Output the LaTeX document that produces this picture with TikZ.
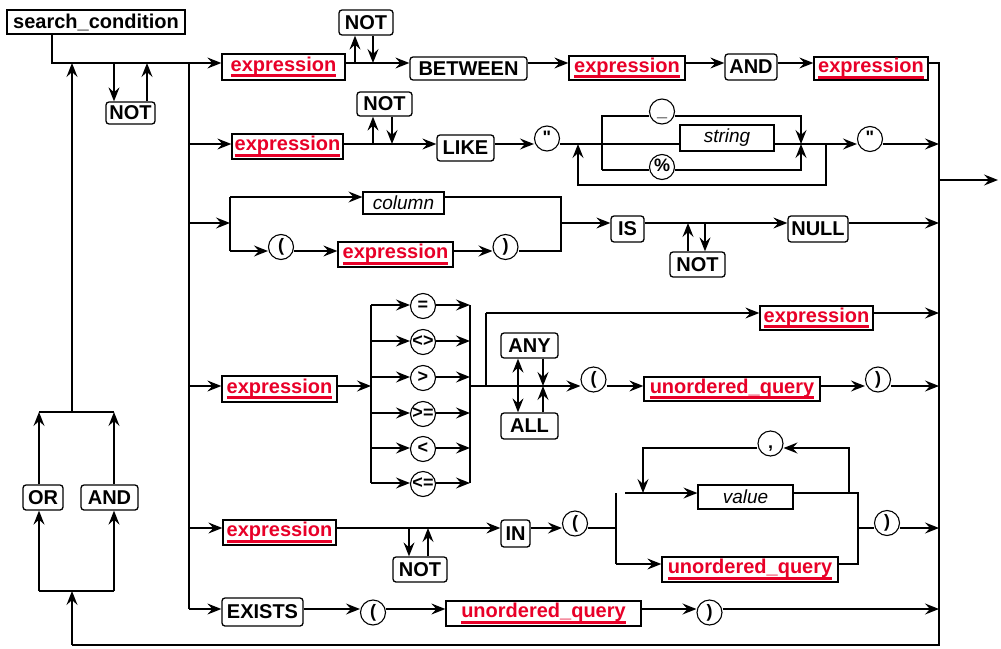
\documentclass[tikz,border=0pt]{standalone}
\usepackage{fontspec}
\setmainfont{Liberation Sans}
\newfontfamily\qfont{Liberation Sans}[Ligatures=TeXOff]
\usetikzlibrary{arrows.meta}
\definecolor{refred}{RGB}{232,0,40}
\newsavebox\rsbox
\newcommand\tm[1]{\makebox[0pt]{#1}}
\newcommand\refu[1]{\sbox\rsbox{#1}\rlap{\rule[-6pt]{\wd\rsbox}{3pt}}\usebox\rsbox}
\tikzset{
  ln/.style={line width=1.4pt, draw=black},
  arr/.style={ln, -{Stealth[length=14pt,width=11pt,inset=5pt]}},
  darr/.style={ln, {Stealth[length=14pt,width=11pt,inset=5pt]}-{Stealth[length=14pt,width=11pt,inset=5pt]}},
  sq/.style={draw, line width=1.3pt, inner sep=0pt, font=\fontsize{20}{24}\selectfont\bfseries},
  kw/.style={draw, rounded corners=3pt, line width=1.3pt, inner sep=0pt, font=\fontsize{20}{24}\selectfont\bfseries},
  rf/.style={draw, line width=1.3pt, inner sep=0pt, text=refred, font=\fontsize{20}{24}\selectfont\bfseries},
  nt/.style={draw, line width=1.2pt, inner sep=0pt, font=\fontsize{19}{23}\selectfont\itshape},
  tc/.style={draw, circle, line width=1.1pt, inner sep=0pt, minimum size=25pt, text height=12pt, text depth=3pt, font=\fontsize{18}{22}\selectfont\bfseries}
}
\begin{document}
\begin{tikzpicture}[x=1pt,y=-1pt]
\useasboundingbox (0,0) rectangle (1001,648);

% ---------- nodes ----------
\node[sq, minimum width=178pt, minimum height=24pt] (sc) at (96,22) {search\_condition};
\node[kw, minimum width=49pt, minimum height=22pt] (not0) at (130.5,113) {NOT};
% row 1
\node[rf, minimum width=123pt, minimum height=26pt] (e1) at (283.5,67) {\refu{expression}};
\node[kw, minimum width=54pt, minimum height=25pt] (not1) at (366,22.5) {NOT};
\node[kw, minimum width=117pt, minimum height=23pt] (between) at (468.5,68.5) {BETWEEN};
\node[rf, minimum width=116pt, minimum height=24pt] (e2) at (627,68) {\refu{expression}};
\node[kw, minimum width=52pt, minimum height=26pt] (and1) at (751,67) {AND};
\node[rf, minimum width=114pt, minimum height=23pt] (e3) at (871,68.5) {\refu{expression}};
% row 2
\node[rf, minimum width=111pt, minimum height=25pt] (e4) at (287.5,146.5) {\refu{expression}};
\node[kw, minimum width=55pt, minimum height=24pt] (not2) at (384.5,104) {NOT};
\node[kw, minimum width=57pt, minimum height=26pt] (like) at (465.5,148) {LIKE};
\node[tc] (q1) at (547,138.5) {\tm{\qfont\bfseries"}};
\node[tc] (us) at (662,111.5) {\tm{\_}};
\node[nt, minimum width=94pt, minimum height=26pt] (str) at (727,138) {string};
\node[tc] (pct) at (662,167) {\tm{\%}};
\node[tc] (q2) at (870,139) {\tm{\qfont\bfseries"}};
% row 3
\node[nt, minimum width=81pt, minimum height=22pt] (col) at (403.5,203) {column};
\node[tc] (lp1) at (281,247) {\tm{(}};
\node[rf, minimum width=115pt, minimum height=25pt] (e5) at (395.5,254.5) {\refu{expression}};
\node[tc] (rp1) at (505.5,247) {\tm{)}};
\node[kw, minimum width=33pt, minimum height=26pt] (is) at (627.5,229) {IS};
\node[kw, minimum width=55pt, minimum height=25pt] (not3) at (697.5,264.5) {NOT};
\node[kw, minimum width=60pt, minimum height=26pt] (null) at (818,229) {NULL};
% row 4
\node[rf, minimum width=115pt, minimum height=26pt] (e6) at (279.5,389) {\refu{expression}};
\foreach \i/\yy/\t in {1/305/=,2/341/<>,3/377/>,4/413/>=,5/448/<,6/483/<=}{
  \node[tc] (c\i) at (423,\yy+1) {\tm{\t}};
  \coordinate (cy\i) at (0,\yy);
}
\node[rf, minimum width=113pt, minimum height=24pt] (e7) at (816.5,318) {\refu{expression}};
\node[kw, minimum width=57pt, minimum height=25pt] (any) at (529.5,345.5) {ANY};
\node[kw, minimum width=57pt, minimum height=26pt] (all) at (529.5,426) {ALL};
\node[tc] (lp2) at (593.5,379.5) {\tm{(}};
\node[rf, minimum width=176pt, minimum height=24pt] (uq1) at (732,389) {\refu{unordered\_query}};
\node[tc] (rp2) at (878,379.5) {\tm{)}};
% row 5
\node[rf, minimum width=113pt, minimum height=25pt] (e8) at (279.5,532.5) {\refu{expression}};
\node[kw, minimum width=54pt, minimum height=25pt] (not4) at (420,569.5) {NOT};
\node[kw, minimum width=29pt, minimum height=27pt] (in) at (515.5,533.5) {IN};
\node[tc] (lp3) at (575,523.5) {\tm{(}};
\node[tc] (comma) at (770.5,443.5) {\tm{,}};
\node[nt, minimum width=95pt, minimum height=24pt] (val) at (745.5,497) {value};
\node[rf, minimum width=176pt, minimum height=25pt] (uq2) at (750,569.5) {\refu{unordered\_query}};
\node[tc] (rp3) at (887,523) {\tm{)}};
% row 6
\node[kw, minimum width=81pt, minimum height=28pt] (exists) at (262.5,612) {EXISTS};
\node[tc] (lp4) at (373,612.5) {\tm{(}};
\node[rf, minimum width=195pt, minimum height=25pt] (uq3) at (543.5,613.5) {\refu{unordered\_query}};
\node[tc] (rp4) at (709.5,612.5) {\tm{)}};
% left loop
\node[kw, minimum width=40pt, minimum height=25pt] (orn) at (43,497.5) {OR};
\node[kw, minimum width=57pt, minimum height=25pt] (and2) at (109.5,497.5) {AND};

% ---------- coordinates ----------
\coordinate (top) at (52,63);
\coordinate (n0a) at (114,63);
\coordinate (n0b) at (147,63);
\coordinate (b1) at (189,63);
\coordinate (b2) at (189,144);
\coordinate (b3) at (189,223);
\coordinate (b4) at (189,386);
\coordinate (b5) at (189,528);
\coordinate (b6) at (189,609);
\coordinate (R1) at (939,63);
\coordinate (R2) at (939,144);
\coordinate (R3) at (939,223);
\coordinate (R4t) at (939,313);
\coordinate (R4) at (939,386);
\coordinate (R5) at (939,528);
\coordinate (R6) at (939,609);
\coordinate (Rb) at (939,645);
\coordinate (Rx) at (939,180);
\coordinate (out) at (998,180);
\coordinate (lb) at (72,645);
\coordinate (lj) at (72,591);
\coordinate (lt) at (72,412);
\coordinate (oj) at (39,591);
\coordinate (aj) at (114,591);
\coordinate (ot) at (39,412);
\coordinate (at) at (114,412);
\coordinate (n1a) at (355,63);
\coordinate (n1b) at (373,63);
\coordinate (n2a) at (373,144);
\coordinate (n2b) at (392,144);
\coordinate (lk0) at (578,144);
\coordinate (lkL) at (602,144);
\coordinate (lkR) at (801,144);
\coordinate (lk1) at (826,144);
\coordinate (y2t) at (0,116);
\coordinate (y2b) at (0,170);
\coordinate (y2l) at (0,185);
\coordinate (j3L) at (230,223);
\coordinate (j3R) at (561,223);
\coordinate (y3t) at (0,197);
\coordinate (y3b) at (0,251);
\coordinate (n3a) at (688,223);
\coordinate (n3b) at (705,223);
\coordinate (c4L) at (371,386);
\coordinate (c4R) at (470,386);
\coordinate (j4) at (486,386);
\coordinate (y4t) at (0,313);
\coordinate (aa1) at (518,386);
\coordinate (aa2) at (543,386);
\coordinate (n4a) at (409,528);
\coordinate (n4b) at (428,528);
\coordinate (j5L) at (616,528);
\coordinate (j5R) at (858,528);
\coordinate (y5t) at (0,493);
\coordinate (y5b) at (0,564);
\coordinate (y5l) at (0,448);
\coordinate (v0) at (625,493);
\coordinate (lpx) at (643,493);
\coordinate (lpr) at (849,493);

% ---------- main entry ----------
\draw[arr] (top |- sc.south) -- (top) -- (e1.west |- top);
\draw[arr] (n0a) -- (n0a |- not0.north);
\draw[arr] (n0b |- not0.north) -- (n0b);
\draw[ln] (b1) -- (b6);

% ---------- right bus, exit and loop back ----------
\draw[ln] (e3.east |- b1) -- (R1) -- (Rb) -- (lb);
\draw[arr] (Rx) -- (out);
\draw[arr] (lb) -- (lj);
\draw[ln] (oj) -- (aj);
\draw[arr] (oj) -- (oj |- orn.south);
\draw[arr] (oj |- orn.north) -- (ot);
\draw[arr] (aj) -- (aj |- and2.south);
\draw[arr] (aj |- and2.north) -- (at);
\draw[ln] (ot) -- (at);
\draw[arr] (lt) -- (lt |- top);

% ---------- row 1 ----------
\draw[arr] (e1.east |- b1) -- (between.west |- b1);
\draw[arr] (n1a) -- (n1a |- not1.south);
\draw[arr] (n1b |- not1.south) -- (n1b);
\draw[arr] (between.east |- b1) -- (e2.west |- b1);
\draw[arr] (e2.east |- b1) -- (and1.west |- b1);
\draw[arr] (and1.east |- b1) -- (e3.west |- b1);

% ---------- row 2 ----------
\draw[arr] (b2) -- (e4.west |- b2);
\draw[arr] (e4.east |- b2) -- (like.west |- b2);
\draw[arr] (n2a) -- (n2a |- not2.south);
\draw[arr] (n2b |- not2.south) -- (n2b);
\draw[arr] (like.east |- b2) -- (q1.west |- b2);
\draw[ln] (q1.east |- b2) -- (str.west |- b2);
\draw[ln] (str.east |- b2) -- (lk1);
\draw[arr] (lk1) -- (q2.west |- b2);
\draw[arr] (q2.east |- b2) -- (R2);
\draw[ln] (lkL |- y2b) -- (lkL |- y2t) -- (us.west |- y2t);
\draw[arr] (us.east |- y2t) -- (lkR |- y2t) -- (lkR);
\draw[ln] (lkL |- y2b) -- (pct.west |- y2b);
\draw[arr] (pct.east |- y2b) -- (lkR |- y2b) -- (lkR);
\draw[arr] (lk1) -- (lk1 |- y2l) -- (lk0 |- y2l) -- (lk0);

% ---------- row 3 ----------
\draw[arr] (b3) -- (j3L);
\draw[ln] (j3L |- y3b) -- (j3L |- y3t);
\draw[arr] (j3L |- y3t) -- (col.west |- y3t);
\draw[arr] (j3L |- y3b) -- (lp1.west |- y3b);
\draw[arr] (lp1.east |- y3b) -- (e5.west |- y3b);
\draw[arr] (e5.east |- y3b) -- (rp1.west |- y3b);
\draw[ln] (rp1.east |- y3b) -- (j3R |- y3b) -- (j3R |- y3t) -- (col.east |- y3t);
\draw[arr] (j3R) -- (is.west |- j3R);
\draw[arr] (is.east |- j3R) -- (null.west |- j3R);
\draw[arr] (n3a |- not3.north) -- (n3a);
\draw[arr] (n3b) -- (n3b |- not3.north);
\draw[arr] (null.east |- j3R) -- (R3);

% ---------- row 4 ----------
\draw[arr] (b4) -- (e6.west |- b4);
\draw[arr] (e6.east |- b4) -- (c4L);
\draw[ln] (c4L |- cy1) -- (c4L |- cy6);
\draw[ln] (c4R |- cy1) -- (c4R |- cy6);
\foreach \i in {1,...,6}{
  \draw[arr] (c4L |- cy\i) -- (c\i.west |- cy\i);
  \draw[arr] (c\i.east |- cy\i) -- (c4R |- cy\i);
}
\draw[ln] (c4R) -- (j4) -- (j4 |- y4t);
\draw[arr] (j4 |- y4t) -- (e7.west |- y4t);
\draw[arr] (e7.east |- y4t) -- (R4t);
\draw[arr] (j4) -- (lp2.west |- j4);
\draw[darr] (aa1 |- any.south) -- (aa1 |- all.north);
\draw[arr] (aa2 |- any.south) -- (aa2);
\draw[arr] (aa2 |- all.north) -- (aa2);
\draw[arr] (lp2.east |- j4) -- (uq1.west |- j4);
\draw[arr] (uq1.east |- j4) -- (rp2.west |- j4);
\draw[arr] (rp2.east |- j4) -- (R4);

% ---------- row 5 ----------
\draw[arr] (b5) -- (e8.west |- b5);
\draw[arr] (e8.east |- b5) -- (in.west |- b5);
\draw[arr] (n4a) -- (n4a |- not4.north);
\draw[arr] (n4b |- not4.north) -- (n4b);
\draw[arr] (in.east |- b5) -- (lp3.west |- b5);
\draw[ln] (lp3.east |- b5) -- (j5L);
\draw[ln] (j5L |- y5t) -- (j5L |- y5b);
\draw[arr] (j5L |- y5b) -- (uq2.west |- y5b);
\draw[ln] (uq2.east |- y5b) -- (j5R |- y5b) -- (j5R |- y5t) -- (val.east |- y5t);
\draw[arr] (v0) -- (val.west |- y5t);
\draw[arr] (lpr) -- (lpr |- y5l) -- (comma.east |- y5l);
\draw[arr] (comma.west |- y5l) -- (lpx |- y5l) -- (lpx);
\draw[ln] (j5R) -- (rp3.west |- j5R);
\draw[arr] (rp3.east |- j5R) -- (R5);

% ---------- row 6 ----------
\draw[arr] (b6) -- (exists.west |- b6);
\draw[arr] (exists.east |- b6) -- (lp4.west |- b6);
\draw[arr] (lp4.east |- b6) -- (uq3.west |- b6);
\draw[arr] (uq3.east |- b6) -- (rp4.west |- b6);
\draw[arr] (rp4.east |- b6) -- (R6);
\end{tikzpicture}
\end{document}
